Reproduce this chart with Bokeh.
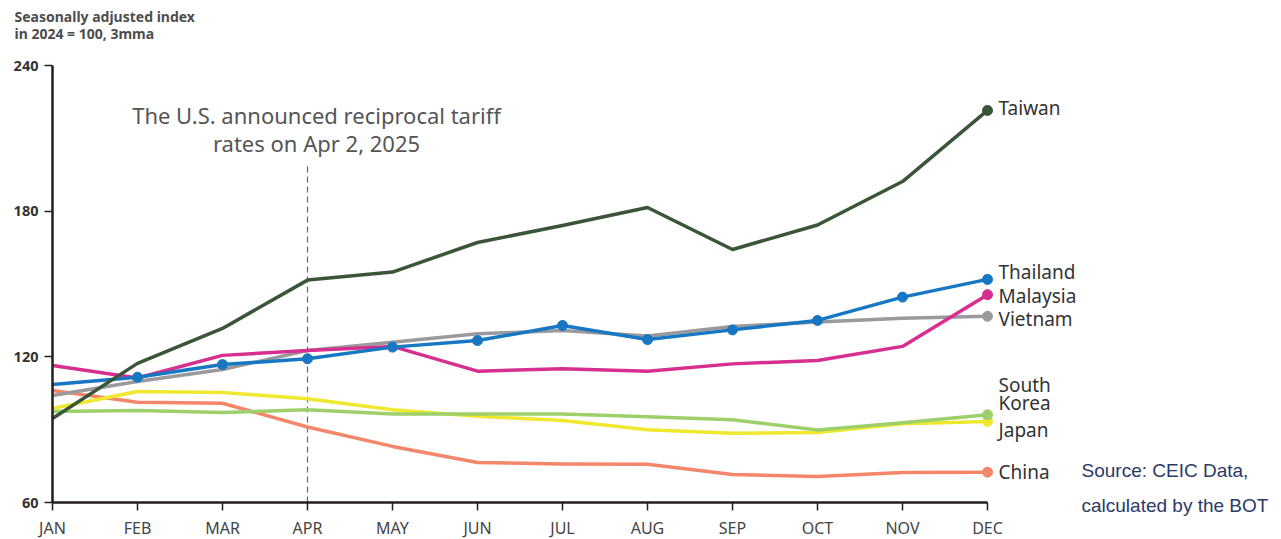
from bokeh.plotting import figure
from bokeh.models import Range1d, FixedTicker, Label
from bokeh.embed import file_html
from bokeh.resources import INLINE
from bokeh.core.properties import value

months = ["JAN", "FEB", "MAR", "APR", "MAY", "JUN", "JUL", "AUG", "SEP", "OCT", "NOV", "DEC"]
y_ticks = [60, 120, 180, 240]

china = [106.1, 101.3, 100.9, 91.1, 83.1, 76.5, 75.9, 75.8, 71.5, 70.7, 72.4, 72.5]
japan = [98.7, 105.7, 105.3, 102.7, 98.2, 95.5, 93.8, 90.0, 88.5, 88.8, 92.4, 93.4]
south_korea = [97.5, 97.9, 97.1, 98.2, 96.5, 96.5, 96.5, 95.3, 94.1, 89.9, 92.8, 96.1]
vietnam = [104.1, 109.8, 114.8, 122.6, 126.0, 129.5, 130.8, 128.6, 132.5, 134.3, 135.9, 136.7]
malaysia = [116.4, 111.3, 120.6, 122.6, 124.3, 114.1, 115.1, 114.1, 117.1, 118.5, 124.3, 145.6]
thailand = [108.6, 111.6, 116.8, 119.2, 124.0, 126.7, 132.9, 127.1, 131.1, 135.0, 144.6, 151.9]
taiwan = [94.6, 117.3, 131.7, 151.6, 154.9, 167.1, 174.1, 181.5, 164.2, 174.3, 192.2, 221.5]

# (label lines, values, colour, label line positions in value units)
series = [
    (["China"], china, "#f4866a", [72.4]),
    (["Japan"], japan, "#f0e82e", [89.7]),
    (["South", "Korea"], south_korea, "#9dcf6a", [108.6, 100.8]),
    (["Vietnam"], vietnam, "#9a9a9c", [135.4]),
    (["Malaysia"], malaysia, "#d62f8f", [144.9]),
    (["Thailand"], thailand, "#1877c2", [155.1]),
    (["Taiwan"], taiwan, "#3b5539", [222.7]),
]

x = list(range(len(months)))

PX_X = 85.0
PX_Y = 437.0 / 180.0

p = figure(width=1281, height=539, output_backend="svg", toolbar_location=None,
           title_location=None,
           x_range=Range1d(-52 / PX_X, 1229 / PX_X),
           y_range=Range1d(60 - 37 / PX_Y, 60 + 502 / PX_Y),
           min_border=0, min_border_left=0, min_border_right=0,
           min_border_top=0, min_border_bottom=0)
p.outline_line_color = None
p.grid.grid_line_color = None
p.background_fill_color = "white"
p.border_fill_color = "white"

ax = p.xaxis[0]
ax.fixed_location = 60
ax.ticker = FixedTicker(ticks=x)
ax.major_label_overrides = {i: m for i, m in enumerate(months)}
ax.bounds = (0, len(months) - 1)
ax.axis_line_color = "#231f20"
ax.axis_line_width = 2.5
ax.major_tick_line_color = "#231f20"
ax.major_tick_line_width = 1.5
ax.major_tick_out = 8
ax.major_tick_in = 0
ax.minor_tick_line_color = None
ax.major_label_standoff = 6
ax.major_label_text_font = "Noto Sans"
ax.major_label_text_font_size = "16px"
ax.major_label_text_color = "#444444"

ay = p.yaxis[0]
ay.fixed_location = 0
ay.ticker = FixedTicker(ticks=y_ticks)
ay.bounds = (60, 240)
ay.axis_line_color = "#231f20"
ay.axis_line_width = 2.5
ay.major_tick_line_color = "#231f20"
ay.major_tick_line_width = 1.5
ay.major_tick_out = 8
ay.major_tick_in = 0
ay.minor_tick_line_color = None
ay.major_label_standoff = 6
ay.major_label_text_font = "Noto Sans"
ay.major_label_text_font_style = "bold"
ay.major_label_text_font_size = "14.5px"
ay.major_label_text_color = "#333333"

# announcement marker
p.segment(x0=[3], y0=[60], x1=[3], y1=[199], line_color="#666666", line_width=1.2, line_dash="6 4")
p.text(x=[3.106, 3.106], y=[60 + 388 / PX_Y, 60 + 360 / PX_Y],
       text=["The U.S. announced reciprocal tariff", "rates on Apr 2, 2025"],
       text_font=value("Noto Sans"), text_font_size="22px", text_color="#555555",
       text_align="center", text_baseline="middle")

for names, vals, color, label_ys in series:
    p.line(x, vals, line_color=color, line_width=3.5, line_join="round")
    if names[0] == "Thailand":
        p.scatter(x[1:], vals[1:], size=10, fill_color=color, line_color=color)
    else:
        p.scatter([x[-1]], [vals[-1]], size=10, fill_color=color, line_color=color)
    p.text(x=[11.13] * len(names), y=label_ys, text=names, text_font=value("Noto Sans"),
           text_font_size="19px", text_color="#333333", text_align="left", text_baseline="middle")

for txt, yy in [("Seasonally adjusted index", 60 + 486 / PX_Y), ("in 2024 = 100, 3mma", 60 + 469 / PX_Y)]:
    p.add_layout(Label(x=-38 / PX_X, y=yy, text=txt, text_font="Noto Sans", text_font_style="bold",
                       text_font_size="14px", text_color="#4d4d4d", text_baseline="middle"))

for txt, yy in [("Source: CEIC Data,", 73.2), ("calculated by the BOT", 58.8)]:
    p.add_layout(Label(x=1029 / PX_X, y=yy, text=txt, text_font="Liberation Sans",
                       text_font_size="19px", text_color="#2b3a67", text_baseline="middle"))

open("out.html", "w").write(file_html(p, INLINE))
